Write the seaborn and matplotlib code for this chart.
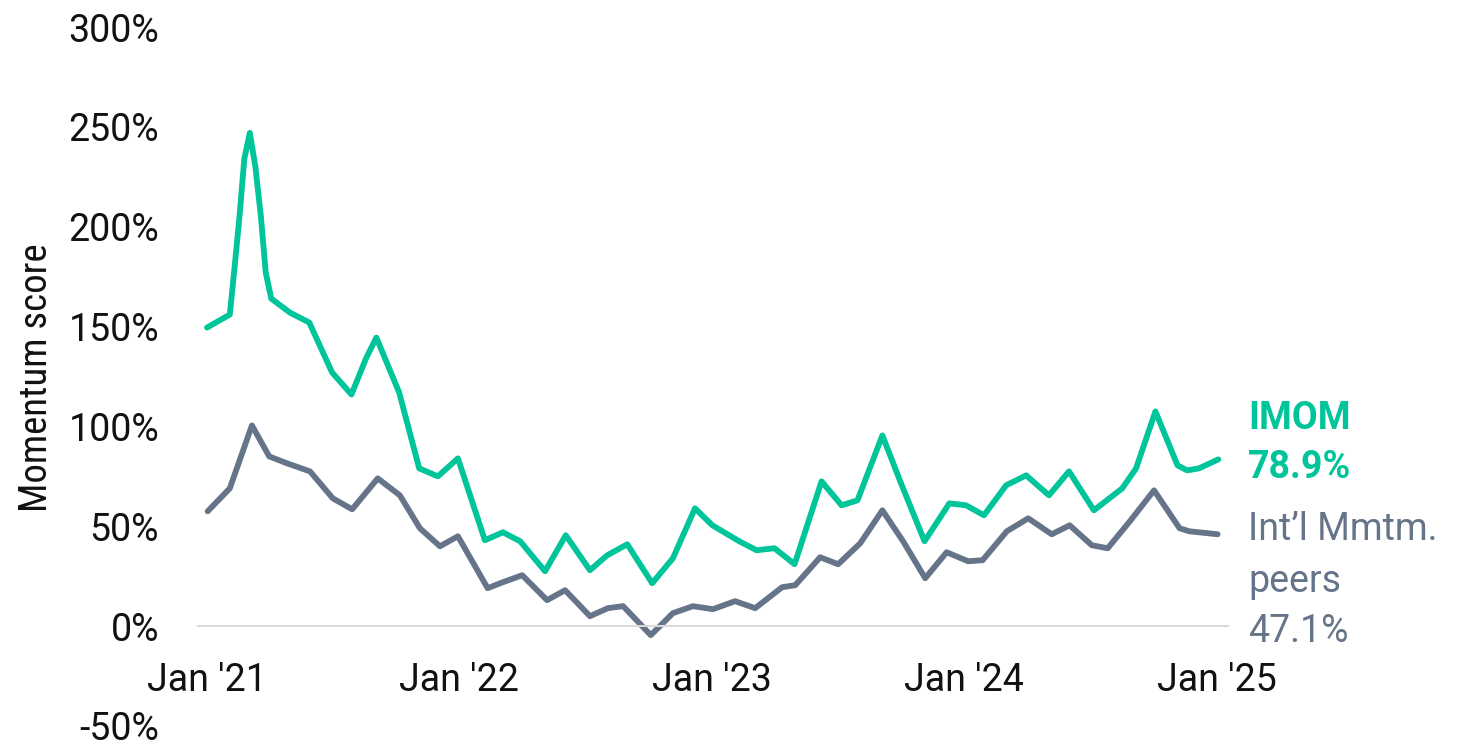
import matplotlib
matplotlib.use("Agg")
import matplotlib.pyplot as plt
import matplotlib.ticker as mticker
from matplotlib import font_manager
import seaborn as sns
import pandas as pd

# ---- data ----
imom_dates = ["2021-01-01", "2021-02-03", "2021-02-10", "2021-02-17", "2021-02-24", "2021-03-04",
              "2021-03-12", "2021-03-20", "2021-03-27", "2021-04-04", "2021-05-01", "2021-05-29",
              "2021-07-01", "2021-07-29", "2021-08-19", "2021-09-03", "2021-10-06", "2021-11-04",
              "2021-12-01", "2021-12-30", "2022-02-07", "2022-03-05", "2022-03-30", "2022-05-05",
              "2022-06-04", "2022-07-09", "2022-08-03", "2022-09-01", "2022-10-07", "2022-11-06",
              "2022-12-08", "2023-01-02", "2023-02-10", "2023-03-07", "2023-04-02", "2023-05-01",
              "2023-06-09", "2023-07-08", "2023-07-31", "2023-09-05", "2023-10-02", "2023-11-05",
              "2023-12-11", "2024-01-04", "2024-01-30", "2024-03-02", "2024-03-31", "2024-05-03",
              "2024-06-01", "2024-07-07", "2024-08-17", "2024-09-06", "2024-10-04", "2024-11-05",
              "2024-11-19", "2024-12-06", "2025-01-03"]
imom_values = [149.5, 156, 180, 205, 234, 247,
               230, 205, 177, 164, 157, 152,
               127, 116, 134, 144.5, 117, 79,
               75, 84, 43, 47, 42.5, 27.5,
               45.5, 28, 35.5, 41, 21.5, 34,
               59, 50.5, 42.5, 38, 39, 31,
               72.5, 60.5, 63, 95.5, 71.5, 42.5,
               61.5, 60.5, 55.5, 70.5, 75.5, 65.5,
               77.5, 58, 69, 79, 107.5, 80.5,
               78, 79, 83.5]

peer_dates = ["2021-01-02", "2021-02-03", "2021-03-07", "2021-04-01", "2021-04-27", "2021-05-30",
              "2021-07-02", "2021-07-30", "2021-09-05", "2021-10-07", "2021-11-05", "2021-12-04",
              "2021-12-30", "2022-02-11", "2022-03-05", "2022-04-02", "2022-05-08", "2022-06-03",
              "2022-07-09", "2022-08-04", "2022-08-26", "2022-10-05", "2022-11-06", "2022-12-05",
              "2023-01-03", "2023-02-04", "2023-03-05", "2023-04-13", "2023-05-02", "2023-06-07",
              "2023-07-03", "2023-08-04", "2023-09-05", "2023-10-05", "2023-11-06", "2023-12-07",
              "2024-01-07", "2024-01-28", "2024-03-03", "2024-04-03", "2024-05-07", "2024-06-02",
              "2024-07-04", "2024-07-27", "2024-08-28", "2024-10-02", "2024-11-08", "2024-11-22",
              "2025-01-02"]
peer_values = [57.5, 69, 100.5, 85, 81.5, 77.5,
               64, 58.5, 74, 65.5, 49, 40,
               45, 19, 22, 25.5, 13, 18,
               5, 9, 10, -4.5, 6.5, 10,
               8.5, 12.5, 9, 19.5, 20.5, 34.5,
               31, 41.5, 58, 42.5, 24, 37,
               32.5, 33, 47.5, 54, 46, 50.5,
               40.5, 39, 52.5, 68, 49, 47.5,
               46]

x_ticks = ["2021-01-01", "2022-01-01", "2023-01-01", "2024-01-01", "2025-01-01"]
x_tick_labels = ["Jan '21", "Jan '22", "Jan '23", "Jan '24", "Jan '25"]
y_ticks = [-50, 0, 50, 100, 150, 200, 250, 300]
y_label = "Momentum score"
imom_label = ["IMOM", "78.9%"]
peer_label = ["Int\u2019l Mmtm.", "peers", "47.1%"]

GREEN = "#00C49A"
GREY = "#667489"
TEXT = "#111111"

sns.set_theme(style="white")
plt.rcParams["font.family"] = ["Roboto", "DejaVu Sans"]

# condensed family for the y-axis title, if one is installed
installed = {f.name for f in font_manager.fontManager.ttflist}
cond_family = None
for cand in ["Roboto Condensed", "Liberation Sans Narrow", "DejaVu Sans Condensed"]:
    if cand in installed:
        cond_family = cand
        break

imom = pd.DataFrame({"date": pd.to_datetime(imom_dates), "value": imom_values})
peer = pd.DataFrame({"date": pd.to_datetime(peer_dates), "value": peer_values})

fig = plt.figure(figsize=(14.63, 7.46), dpi=100)
ax = fig.add_axes([198 / 1463, 20 / 746, (1228 - 198) / 1463, 699 / 746])

sns.lineplot(data=peer, x="date", y="value", ax=ax, color=GREY, linewidth=4.2,
             solid_joinstyle="round", solid_capstyle="round")
sns.lineplot(data=imom, x="date", y="value", ax=ax, color=GREEN, linewidth=4.2,
             solid_joinstyle="round", solid_capstyle="round")

ax.set_ylim(-50, 300)
ax.set_xlim(pd.Timestamp("2020-12-19"), pd.Timestamp("2025-01-17"))
ax.set_yticks(y_ticks)
ax.yaxis.set_major_formatter(mticker.FuncFormatter(lambda v, p: f"{v:.0f}%"))
ax.set_xticks(pd.to_datetime(x_ticks))
ax.set_xticklabels(x_tick_labels)

for s in ["top", "right", "left"]:
    ax.spines[s].set_visible(False)
ax.spines["bottom"].set_position(("data", 0))
ax.spines["bottom"].set_color("#d9d9d9")
ax.spines["bottom"].set_linewidth(1.5)

ax.tick_params(axis="y", length=0, pad=28, labelsize=27, labelcolor=TEXT)
ax.tick_params(axis="x", length=0, pad=26, labelsize=27, labelcolor=TEXT)
ax.set_xlabel("")
ax.set_ylabel("")
ax.grid(False)

# y-axis title
if cond_family:
    fig.text(37 / 1463, 1 - 378 / 746, y_label, rotation=90, fontsize=28, color=TEXT,
             family=[cond_family, "DejaVu Sans"], ha="center", va="center")
else:
    fig.text(37 / 1463, 1 - 378 / 746, y_label, rotation=90, fontsize=26, color=TEXT,
             ha="center", va="center")

# end labels
tx = 1248 / 1463
for i, t in enumerate(imom_label):
    fig.text(tx, 1 - (418 + 50 * i) / 746, t, color=GREEN, fontsize=27, fontweight="bold",
             va="center", ha="left")
for i, t in enumerate(peer_label):
    fig.text(tx, 1 - (530 + 51 * i) / 746, t, color=GREY, fontsize=27,
             va="center", ha="left")

fig.savefig("out.png", dpi=100, facecolor="white")
